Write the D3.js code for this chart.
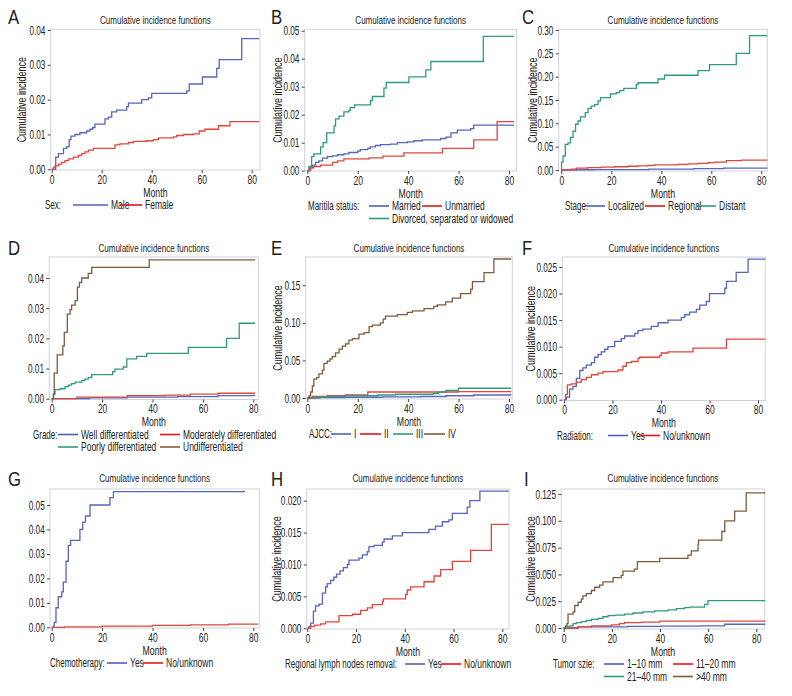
<!DOCTYPE html>
<html>
<head>
<meta charset="utf-8">
<style>
    body { margin: 0; background: #fff; }
    svg { display: block; }
    text { font-family: "Liberation Sans", Arial, sans-serif; fill: #222; }
    .tick text { font-size: 12.5px; fill: #222; }
    .tick line { stroke: #444; }
    .domain { display: none; }
</style>
</head>
<body>
<svg width="792" height="696"></svg>
<script src="https://d3js.org/d3.v7.min.js"></script>
<script>
// ---- data: step points [month, cumulative incidence] ----
const sexMale = [[1.6,.0035],[2.7,.0045],[4.7,.006],[6,.0065],[7,.0085],[7.7,.0095],[9.3,.010],[11.3,.0105],[14,.011],[15.3,.0115],[16.4,.012],[17.3,.013],[21.3,.0145],[22.7,.015],[24,.0165],[26,.017],[30,.018],[30.7,.019],[36,.020],[38.7,.0205],[40,.0218],[54,.0225],[55,.0245],[60.3,.0265],[66,.029],[67,.0315],[76,.0375],[83,.0375]];
const sexFemale = [[.7,.0005],[1.3,.001],[2.7,.0015],[4,.002],[5.3,.0025],[6.7,.003],[8.7,.0035],[10.7,.004],[12,.0045],[13.3,.005],[14.7,.0055],[16.7,.006],[25.3,.007],[27.3,.0073],[30.7,.0077],[32.7,.008],[38,.0082],[40.7,.0085],[42.7,.009],[48.7,.0093],[50,.0097],[52.7,.010],[56.7,.0102],[59,.011],[61.3,.0115],[66.7,.0125],[71.3,.0137],[83,.0137]];

const marMarried = [[.7,.001],[2,.002],[3.3,.003],[4.6,.0035],[6,.0045],[8,.005],[10,.0053],[12,.0057],[14.5,.006],[16.5,.0065],[20,.007],[21,.0075],[24,.008],[25,.0085],[27,.009],[29,.0093],[33,.0095],[35.7,.010],[39.7,.0103],[42.3,.0107],[45.6,.011],[52.9,.0115],[55,.012],[57,.0135],[59.5,.0145],[64.8,.015],[66,.0163],[82,.0163]];
const marUnmarried = [[1.3,.001],[2.6,.0015],[5.3,.002],[10,.003],[12,.0035],[14.5,.0042],[24.5,.0046],[30,.0052],[38.3,.0064],[53.6,.008],[66,.011],[75.3,.0175],[82,.0175]];
const marDivorced = [[.7,.0015],[1.7,.005],[2.6,.006],[5.3,.0085],[6.3,.010],[7.7,.0135],[10.6,.016],[11.2,.0185],[12.6,.0195],[14.5,.021],[16.5,.0215],[17,.0225],[18.8,.0235],[25.1,.025],[25.8,.0265],[30.4,.0295],[31.3,.0315],[40.3,.0335],[47,.036],[49,.039],[69.8,.048],[82,.048]];

const stLocalized = [[6,.0005],[13,.001],[35,.002],[53,.003],[65,.004],[82.4,.004]];
const stRegional = [[1.3,.001],[4,.002],[6,.004],[10.7,.005],[16,.006],[21.3,.007],[26.7,.008],[30.7,.009],[34.7,.010],[37.3,.011],[46.7,.012],[50.7,.013],[54.7,.014],[58.7,.016],[61.3,.017],[66,.020],[72,.021],[82.4,.021]];
const stDistant = [[.1,.017],[.7,.03],[1.6,.055],[2.7,.058],[3.7,.07],[4.7,.083],[5.7,.098],[6.7,.105],[7.7,.114],[9.6,.123],[10.7,.132],[12,.137],[13.3,.14],[14.7,.148],[15.7,.155],[19.7,.163],[22,.166],[23.3,.17],[25,.175],[30,.183],[30.7,.187],[38.7,.195],[41.3,.203],[54.7,.213],[59.3,.226],[70,.25],[75.3,.288],[82.4,.288]];

const grWell = [[15,.0003],[30,.0005],[50,.0007],[66,.001],[80.7,.001]];
const grModerate = [[10,.0005],[30,.001],[45,.0012],[55,.0015],[66,.0018],[80.7,.0018]];
const grPoor = [[.7,.0015],[1.3,.003],[3.3,.0033],[5.3,.004],[6.6,.0045],[7.9,.005],[9.3,.0055],[11.9,.006],[13.2,.0065],[14.5,.007],[15.9,.008],[24.2,.009],[25.1,.0098],[28.4,.0105],[29.8,.0132],[33.7,.014],[37.7,.015],[54.2,.017],[69.4,.020],[74.4,.025],[80.7,.025]];
const grUndiff = [[.7,.0015],[1,.0085],[2.2,.0145],[4.4,.0175],[5,.022],[6.2,.028],[7.3,.0295],[7.9,.031],[9.3,.0325],[10.2,.037],[11,.0385],[11.9,.040],[14.5,.0415],[15.9,.0435],[38.7,.046],[80.7,.046]];

const ajccI = [[5,.0005],[15,.001],[30,.0015],[45,.002],[55,.003],[66,.004],[80.9,.004]];
const ajccII = [[2,.002],[8,.003],[15,.004],[24,.008],[60,.0085],[80.9,.0085]];
const ajccIII = [[3,.001],[8,.002],[15,.003],[28,.004],[35,.005],[50,.006],[52,.008],[55,.010],[60,.013],[80.9,.013]];
const ajccIV = [[.7,.003],[1.3,.008],[2,.016],[2.6,.025],[3.7,.027],[4.6,.032],[6,.037],[6.6,.046],[7.9,.049],[9,.052],[9.9,.055],[11.2,.06],[12.6,.065],[13.9,.069],[15.2,.072],[16.5,.077],[17.9,.079],[20.5,.085],[22.5,.087],[24.5,.095],[25.8,.097],[29,.10],[30.1,.105],[31,.109],[35.7,.111],[39.7,.114],[41.7,.116],[46.3,.119],[50.2,.122],[51.6,.124],[54.9,.128],[57.5,.133],[60.8,.139],[64.8,.145],[65.5,.155],[70.1,.167],[74,.185],[80.9,.185]];

const radYes = [[1,.0005],[2.3,.002],[3.7,.0025],[5.1,.004],[6.5,.0055],[7.8,.006],[9.2,.0065],[11.3,.007],[12.6,.008],[14,.0085],[15.4,.009],[16.8,.0095],[18.1,.010],[20.9,.011],[23.6,.0115],[25,.012],[29.2,.0125],[30.5,.013],[32.6,.0133],[36,.0138],[38.8,.0145],[42.9,.015],[48.4,.0155],[49.8,.016],[51.8,.0165],[54.6,.017],[56,.0178],[58.7,.0185],[60,.020],[66.3,.021],[67,.0223],[71,.024],[75.9,.0265],[83,.0265]];
const radNo = [[.7,.001],[1.4,.0028],[3,.003],[5.1,.0033],[7.1,.0038],[9.2,.0042],[11.3,.0047],[14,.005],[16.1,.0053],[22.3,.0056],[24.3,.0063],[25.7,.007],[27.8,.0072],[30.5,.0078],[31.2,.008],[39.4,.0083],[40.1,.0088],[42.9,.009],[53.2,.0097],[67,.0114],[83,.0114]];

const chemoYes = [[.7,.0005],[1,.002],[1.7,.008],[2.6,.0125],[4,.0145],[4.6,.0185],[5.7,.027],[6.6,.0335],[7.5,.0355],[11.2,.040],[12.3,.043],[13.4,.0455],[15.2,.050],[23.1,.053],[24.5,.0555],[76.7,.0555]];
const chemoNo = [[5,.0002],[20,.0005],[40,.0008],[55,.001],[70,.0013],[82,.0013]];

const lnYes = [[.7,.0003],[1.4,.0008],[2.5,.0027],[3.4,.0035],[4.8,.0038],[6.2,.0055],[7.5,.0065],[8.2,.007],[9.6,.0075],[10.9,.008],[12,.0085],[13.4,.009],[14.8,.0095],[16.4,.010],[17.1,.0107],[21.2,.011],[22.6,.0115],[24.6,.012],[25.3,.0128],[27.4,.013],[30.8,.0135],[31.5,.014],[34.9,.0145],[39,.015],[49.9,.0155],[52.6,.016],[55.4,.0167],[58.1,.017],[59.5,.018],[65.6,.019],[66.7,.020],[70.8,.0215],[82.7,.0215]];
const lnNo = [[1.4,.0003],[3,.0005],[5.5,.0007],[7.5,.001],[13,.002],[18.5,.0022],[21.9,.0028],[24.6,.0032],[26.7,.0037],[30.8,.0042],[31.2,.0046],[40.3,.0053],[41,.006],[42.4,.0065],[47.9,.0073],[52,.0082],[54.7,.0092],[59.5,.0105],[67,.0122],[75.5,.0163],[82.7,.0163]];

const tsSmall = [[6,.001],[26.7,.0015],[40.6,.0018],[57,.002],[66.9,.0035],[83.7,.0035]];
const tsMid = [[6,.001],[11.5,.002],[19.8,.003],[23.2,.004],[25.3,.005],[32.2,.0055],[39.9,.0065],[83.7,.0065]];
const tsLarge = [[1.1,.001],[2.5,.002],[3.9,.004],[5.3,.005],[7.3,.006],[9.4,.007],[11.5,.008],[14.3,.009],[16.3,.0105],[18.4,.0115],[21.2,.012],[25.3,.013],[28.8,.014],[32.9,.015],[37.8,.016],[43.3,.017],[46.8,.018],[50.2,.019],[52.3,.0195],[58.5,.022],[59.9,.0255],[83.7,.0255]];
const tsHuge = [[.7,.002],[1.4,.004],[1.8,.013],[3.9,.015],[4.6,.021],[6,.024],[7.3,.027],[8,.03],[9.4,.032],[11.5,.035],[12.9,.038],[14.9,.04],[16.3,.043],[20.5,.047],[23.9,.049],[24.6,.053],[29.4,.055],[30.6,.062],[39.9,.065],[51.6,.068],[53,.072],[55.8,.078],[56,.082],[65.7,.09],[66.9,.10],[71,.109],[75.8,.126],[83.7,.126]];

const xTicks = [0, 20, 40, 60, 80];
const yTicksA = [0, .01, .02, .03, .04];
const yTicksB = [0, .01, .02, .03, .04, .05];
const yTicksC = [0, .05, .10, .15, .20, .25, .30];
const yTicksE = [0, .05, .10, .15];
const yTicksF = [0, .005, .010, .015, .020, .025];
const yTicksH = [0, .005, .010, .015, .020];
const yTicksI = [0, .025, .050, .075, .100, .125];

const colors = { blue: "#5566bb", red: "#e0463c", green: "#2f9a82", brown: "#7d5c3c" };
const legColors = { blue: "#4f5fb8", red: "#e8141c", green: "#2f9a82", brown: "#7d5c3c" };

// ---- panels (layout in page pixels) ----
let panels = [
    { letter: "A", lx: 8, frame: [50.7, 29.3, 260, 170], x0: 51.7, x80: 251.7, y0: 169.3, yt: 30, ticks: yTicksA, fmt: ".2f", ylab: 22,
      series: [[sexMale, "blue"], [sexFemale, "red"]],
      legTitle: ["Sex:", 45], leg: [[0, "blue", 73, 108, "Male"], [0, "red", 120, 142, "Female"]] },
    { letter: "B", lx: 271, frame: [304.7, 29.3, 516.7, 171], x0: 307.3, x80: 509, y0: 170.7, yt: 30.7, ticks: yTicksB, fmt: ".2f", ylab: 278,
      series: [[marMarried, "blue"], [marUnmarried, "red"], [marDivorced, "green"]],
      legTitle: ["Maritila status:", 308], leg: [[0, "blue", 369, 389, "Married"], [0, "red", 422, 442, "Unmarried"], [1, "green", 369, 389, "Divorced, separated or widowed"]] },
    { letter: "C", lx: 522, frame: [558.7, 29.3, 767.3, 171], x0: 561.3, x80: 761.3, y0: 170, yt: 30, ticks: yTicksC, fmt: ".2f", ylab: 533,
      series: [[stLocalized, "blue"], [stRegional, "red"], [stDistant, "green"]],
      legTitle: ["Stage:", 565], leg: [[0, "blue", 585, 605, "Localized"], [0, "red", 645, 665, "Regional"], [0, "green", 696, 716, "Distant"]] },
    { letter: "D", lx: 8, frame: [49.3, 257, 258.3, 399.5], x0: 51.7, x80: 253.3, y0: 398.7, yt: 278, ticks: yTicksA, fmt: ".2f", ylab: null,
      series: [[grWell, "blue"], [grModerate, "red"], [grPoor, "green"], [grUndiff, "brown"]],
      legTitle: ["Grade:", 33], leg: [[0, "blue", 58, 78, "Well differentiated"], [0, "red", 160, 180, "Moderately differentiated"], [1, "green", 58, 78, "Poorly differentiated"], [1, "brown", 160, 180, "Undifferentiated"]] },
    { letter: "E", lx: 271, frame: [305.7, 257, 512.3, 399], x0: 307.3, x80: 509, y0: 398, yt: 285.3, ticks: yTicksE, fmt: ".2f", ylab: 278,
      series: [[ajccI, "blue"], [ajccII, "red"], [ajccIII, "green"], [ajccIV, "brown"]],
      legTitle: ["AJCC:", 309], leg: [[0, "blue", 331, 351, "I"], [0, "red", 360, 381, "II"], [0, "green", 393, 413, "III"], [0, "brown", 424, 445, "IV"]] },
    { letter: "F", lx: 522, frame: [562.3, 257, 765.3, 400.5], x0: 564, x80: 758, y0: 399.7, yt: 267, ticks: yTicksF, fmt: ".3f", ylab: 531,
      series: [[radYes, "blue"], [radNo, "red"]],
      legTitle: ["Radiation:", 557], leg: [[0, "blue", 608, 628, "Yes"], [0, "red", 640, 660, "No/unknown"]] },
    { letter: "G", lx: 8, frame: [50, 489, 259.3, 628], x0: 51.7, x80: 253.3, y0: 627.3, yt: 505, ticks: yTicksB, fmt: ".2f", ylab: null,
      series: [[chemoYes, "blue"], [chemoNo, "red"]],
      legTitle: ["Chemotherapy:", 50], leg: [[0, "blue", 107, 127, "Yes"], [0, "red", 143, 163, "No/unknown"]] },
    { letter: "H", lx: 271, frame: [306.7, 489, 509, 629], x0: 307.3, x80: 502.3, y0: 628.3, yt: 500.7, ticks: yTicksH, fmt: ".3f", ylab: 277,
      series: [[lnYes, "blue"], [lnNo, "red"]],
      legTitle: ["Regional lymph nodes removal:", 285], leg: [[0, "blue", 405, 425, "Yes"], [0, "red", 441, 461, "No/unknown"]] },
    { letter: "I", lx: 524, frame: [561.3, 489, 764.7, 629], x0: 563.7, x80: 756.3, y0: 628, yt: 494, ticks: yTicksI, fmt: ".3f", ylab: 531,
      series: [[tsSmall, "blue"], [tsMid, "red"], [tsLarge, "green"], [tsHuge, "brown"]],
      legTitle: ["Tumor szie:", 553], leg: [[0, "blue", 604, 624, "1\u201310 mm"], [0, "red", 673, 693, "11\u201320 mm"], [1, "green", 604, 624, "21\u201340 mm"], [1, "brown", 673, 693, ">40 mm"]] }
];

let svg = d3.select("svg");

// the original uses a condensed face, so squeeze text horizontally
function label(g, x, y, str, size, sx, anchor, rot) {
    return g.append("text")
        .attr("transform", `translate(${x},${y})` + (rot ? ` rotate(${rot})` : "") + ` scale(${sx},1)`)
        .attr("text-anchor", anchor || "start")
        .style("font-size", size + "px")
        .text(str);
}

panels.forEach(function (p) {
    let [fl, ft, fr, fb] = p.frame;
    let g = svg.append("g");

    let x = d3.scaleLinear().domain([0, 80]).range([p.x0, p.x80]);
    let y = d3.scaleLinear().domain([0, p.ticks[p.ticks.length - 1]]).range([p.y0, p.yt]);

    g.append("rect")
        .attr("x", fl).attr("y", ft)
        .attr("width", fr - fl).attr("height", fb - ft)
        .attr("fill", "none")
        .attr("stroke", "#cdd2d8")
        .attr("stroke-width", 1);

    g.append("g")
        .attr("transform", `translate(0,${fb})`)
        .call(d3.axisBottom(x).tickValues(xTicks).tickSize(3).tickPadding(2).tickFormat(d3.format("d")))
        .call(a => a.selectAll(".tick text").attr("transform", "scale(0.68,1)"));

    g.append("g")
        .attr("transform", `translate(${fl},0)`)
        .call(d3.axisLeft(y).tickValues(p.ticks).tickSize(3).tickPadding(5).tickFormat(d3.format(p.fmt)))
        .call(a => a.selectAll(".tick text").attr("transform", "scale(0.66,1)"));

    let line = d3.line()
        .curve(d3.curveStepAfter)
        .x(d => x(d[0]))
        .y(d => y(d[1]));

    p.series.forEach(function (s) {
        g.append("path")
            .datum([[0, 0]].concat(s[0]))
            .attr("fill", "none")
            .attr("stroke", colors[s[1]])
            .attr("stroke-width", 1.3)
            .attr("d", line);
    });

    let row = ft < 100 ? 0 : (ft < 300 ? 1 : 2);
    let base = [0, 232, 464][row];
    let midX = (fl + fr) / 2;

    label(g, p.lx, base + [24, 23, 22][row], p.letter, 21, 0.8);
    label(g, midX, base + [24, 20, 18][row], "Cumulative incidence functions", 11.5, 0.7, "middle");
    label(g, midX, fb + 26.5, "Month", 12.5, 0.7, "middle");

    if (p.ylab !== null) {
        label(g, p.ylab + 4, (ft + fb) / 2, "Cumulative incidence", 12, 0.75, "middle", -90);
    }

    let legY = fb + 39;
    label(g, p.legTitle[1], legY, p.legTitle[0], 12.5, 0.64);

    p.leg.forEach(function (l) {
        let ly = legY + l[0] * 12.5;
        g.append("line")
            .attr("x1", l[2]).attr("x2", l[3])
            .attr("y1", ly - 4).attr("y2", ly - 4)
            .attr("stroke", legColors[l[1]])
            .attr("stroke-width", 1.6);
        label(g, l[3] + 3, ly, l[4], 12.5, 0.68);
    });
});
</script>
</body>
</html>
